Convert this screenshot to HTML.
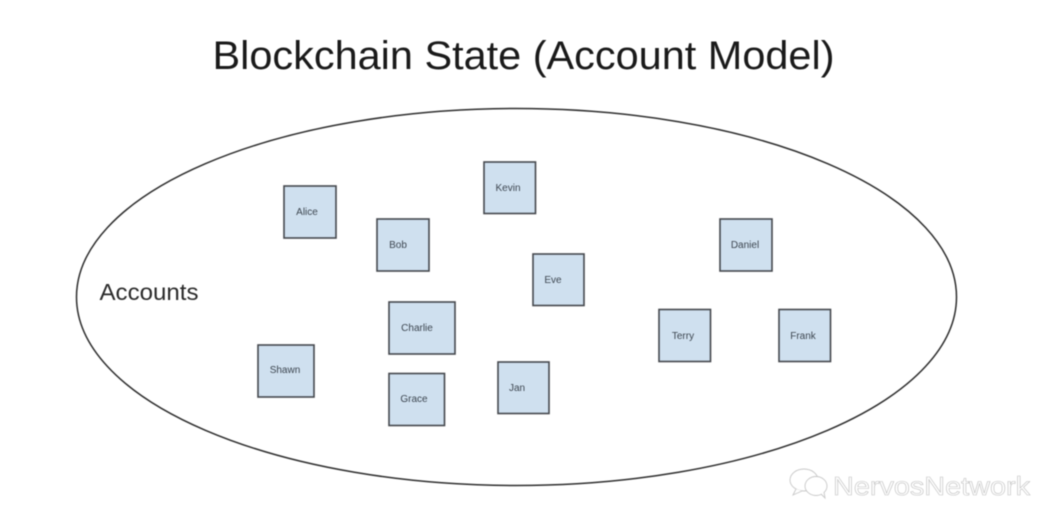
<!DOCTYPE html>
<html><head><meta charset="utf-8"><style>
html,body{margin:0;padding:0;background:#fff}
svg{display:block;filter:blur(0.4px)}
text{font-family:"Liberation Sans",sans-serif}
rect{fill:#cfe0ef;stroke:#45484d;stroke-width:1.6}
.l{font-size:10px;fill:#3d4650;text-anchor:middle}
</style></head><body>
<svg width="1047" height="529" viewBox="0 0 1047 529" xmlns="http://www.w3.org/2000/svg">
<rect x="0" y="0" width="1047" height="529" style="fill:#fff;stroke:none"/>
<text x="523.5" y="69" text-anchor="middle" font-size="40" fill="#1a1a1a" textLength="622" lengthAdjust="spacingAndGlyphs">Blockchain State (Account Model)</text>
<ellipse cx="516.5" cy="297" rx="440" ry="188.5" fill="none" stroke="#2e2e2e" stroke-width="1.5"/>
<text x="99.500" y="300" font-size="23" fill="#2a2a2a" textLength="99" lengthAdjust="spacingAndGlyphs">Accounts</text>
<rect x="284" y="186" width="52" height="52"/><text class="l" x="307" y="215">Alice</text>
<rect x="377" y="219" width="52" height="52"/><text class="l" x="398" y="248">Bob</text>
<rect x="484" y="162" width="51.500" height="51.500"/><text class="l" x="508" y="191">Kevin</text>
<rect x="533" y="254" width="51" height="51.500"/><text class="l" x="553" y="283">Eve</text>
<rect x="720" y="219" width="52" height="52"/><text class="l" x="745" y="248">Daniel</text>
<rect x="389" y="302" width="66" height="52"/><text class="l" x="417" y="331">Charlie</text>
<rect x="258" y="345" width="56" height="52"/><text class="l" x="285" y="373">Shawn</text>
<rect x="389" y="373.500" width="55.500" height="52"/><text class="l" x="414" y="402">Grace</text>
<rect x="498" y="362" width="51" height="51.500"/><text class="l" x="517" y="391">Jan</text>
<rect x="659" y="309.500" width="51.500" height="52"/><text class="l" x="683" y="339">Terry</text>
<rect x="779" y="309.500" width="51.500" height="52"/><text class="l" x="803" y="339">Frank</text>
<g fill="#fff" stroke="#c8c8c8" stroke-width="0.9">
<ellipse cx="804" cy="480" rx="14" ry="11"/>
<path d="M796 489 L793 495 L802 491" />
<ellipse cx="816" cy="486" rx="11" ry="9.500"/>
<path d="M821 494 L825 498 L824 492" />
</g>
<text x="833" y="495" font-size="26" fill="#fff" stroke="#c2c2c2" stroke-width="0.6" textLength="197" lengthAdjust="spacingAndGlyphs">NervosNetwork</text>
</svg>
</body></html>
